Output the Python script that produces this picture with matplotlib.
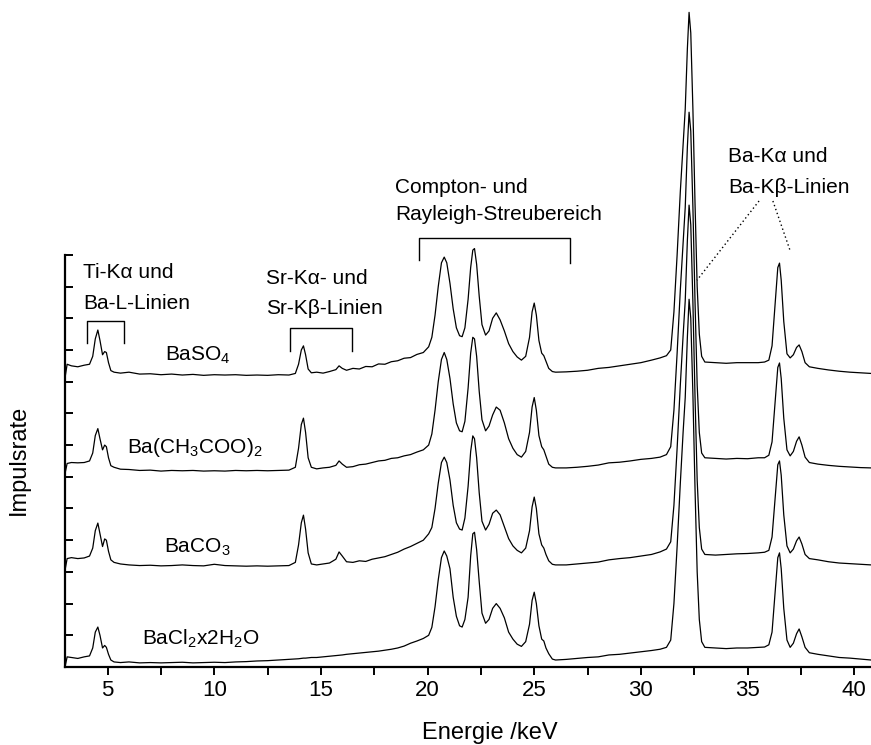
import matplotlib
matplotlib.use("Agg")
import matplotlib.pyplot as plt

plt.rcParams['font.family'] = ['Liberation Sans', 'DejaVu Sans']
plt.rcParams['mathtext.fontset'] = 'custom'
plt.rcParams['mathtext.rm'] = 'Liberation Sans'
plt.rcParams['mathtext.default'] = 'regular'

# Energie-Raster (keV)
energie = [
    3.0, 3.1, 3.3, 3.6, 3.9, 4.15, 4.3, 4.42, 4.54, 4.64,
    4.76, 4.86, 4.94, 5.04, 5.15, 5.3, 5.6, 6.0, 6.5, 7.0,
    7.5, 8.0, 8.5, 9.0, 9.5, 10.0, 10.5, 11.0, 11.5, 12.0,
    12.5, 13.0, 13.5, 13.8, 13.95, 14.08, 14.18, 14.28, 14.4, 14.55,
    14.8, 15.1, 15.4, 15.7, 15.85, 16.0, 16.2, 16.5, 16.8, 17.1,
    17.4, 17.7, 18.0, 18.3, 18.6, 18.9, 19.2, 19.5, 19.8, 20.05,
    20.2, 20.35, 20.5, 20.65, 20.78, 20.9, 21.05, 21.2, 21.35, 21.5,
    21.62, 21.75, 21.9, 22.02, 22.12, 22.2, 22.3, 22.42, 22.55, 22.72,
    22.88, 23.05, 23.22, 23.4, 23.6, 23.8, 24.0, 24.2, 24.4, 24.6,
    24.78, 24.9, 25.0, 25.1, 25.22, 25.35, 25.45, 25.55, 25.68, 25.85,
    26.0, 26.5, 27.0, 27.5, 28.0, 28.5, 29.0, 29.5, 30.0, 30.5,
    30.9, 31.2, 31.4, 31.55, 31.7, 31.85, 31.98, 32.08, 32.18, 32.26,
    32.34, 32.44, 32.54, 32.64, 32.74, 32.85, 33.0, 33.5, 34.0, 34.5,
    35.0, 35.5, 35.8, 36.0, 36.15, 36.3, 36.42, 36.5, 36.58, 36.7,
    36.85, 37.0, 37.15, 37.3, 37.42, 37.55, 37.7, 37.9, 38.3, 38.8,
    39.3, 39.8, 40.3, 40.8,
]

baso4 = [
    0.12, 0.55, 0.5, 0.47, 0.52, 0.55, 0.8, 1.35, 1.63, 1.3,
    0.85, 0.95, 0.92, 0.6, 0.35, 0.3, 0.27, 0.3, 0.24, 0.25,
    0.22, 0.24, 0.21, 0.23, 0.2, 0.22, 0.21, 0.22, 0.2, 0.21,
    0.2, 0.22, 0.21, 0.26, 0.55, 1.0, 1.13, 0.85, 0.4, 0.28,
    0.3, 0.27, 0.32, 0.38, 0.5, 0.42, 0.36, 0.42, 0.4, 0.48,
    0.47, 0.56, 0.55, 0.63, 0.66, 0.74, 0.76, 0.86, 0.92, 1.1,
    1.4, 2.1, 3.0, 3.75, 3.93, 3.75, 3.1, 2.3, 1.7, 1.45,
    1.42, 1.7, 2.6, 3.6, 4.15, 4.2, 3.7, 2.7, 1.8, 1.47,
    1.6, 2.0, 2.17, 1.95, 1.6, 1.2, 0.95, 0.78, 0.68, 0.8,
    1.4, 2.2, 2.48, 2.1, 1.3, 0.9, 0.82, 0.65, 0.42, 0.32,
    0.3, 0.31, 0.33, 0.36, 0.42, 0.45, 0.5, 0.55, 0.6, 0.68,
    0.75, 0.82, 1.0, 2.2, 4.0, 6.0, 7.5, 8.6, 10.5, 11.65,
    11.0, 8.6, 5.6, 3.0, 1.5, 0.8, 0.62, 0.6, 0.58, 0.6,
    0.6, 0.6, 0.62, 0.68, 1.13, 2.5, 3.6, 3.74, 3.2, 1.9,
    0.88, 0.75, 0.85, 1.08, 1.16, 0.95, 0.6, 0.47, 0.42, 0.37,
    0.33, 0.3, 0.28, 0.26,
]

ba_acetat = [
    0.1, 0.42, 0.45, 0.44, 0.45, 0.5, 0.75, 1.3, 1.52, 1.2,
    0.85, 1.0, 0.95, 0.6, 0.35, 0.3, 0.24, 0.23, 0.2, 0.21,
    0.18, 0.2, 0.19, 0.2, 0.18, 0.19, 0.18, 0.2, 0.19, 0.2,
    0.19, 0.2, 0.21, 0.3, 0.9, 1.65, 1.85, 1.4, 0.6, 0.3,
    0.25, 0.28, 0.3, 0.36, 0.5, 0.4, 0.3, 0.32, 0.38, 0.4,
    0.45, 0.5, 0.52, 0.58, 0.6, 0.66, 0.7, 0.78, 0.85, 1.0,
    1.35, 2.1, 3.0, 3.7, 3.92, 3.7, 3.1, 2.3, 1.7, 1.45,
    1.42, 1.75, 2.8, 3.9, 4.4, 4.35, 3.8, 2.7, 1.8, 1.45,
    1.6, 1.95, 2.2, 2.1, 1.7, 1.2, 0.9, 0.7, 0.62, 0.8,
    1.4, 2.2, 2.5, 2.1, 1.3, 0.95, 0.85, 0.65, 0.4, 0.3,
    0.28, 0.28, 0.3, 0.33, 0.37, 0.44, 0.46, 0.5, 0.55, 0.58,
    0.62, 0.7, 0.95, 2.1, 3.9, 5.9, 7.4, 8.5, 10.4, 11.5,
    10.9, 8.5, 5.5, 2.9, 1.4, 0.75, 0.6, 0.58, 0.56, 0.58,
    0.57, 0.6, 0.6, 0.68, 1.1, 2.4, 3.45, 3.59, 3.1, 1.85,
    0.85, 0.66, 0.8, 1.12, 1.26, 1.0, 0.62, 0.45, 0.4, 0.36,
    0.33, 0.31, 0.29, 0.28,
]

baco3 = [
    0.05, 0.42, 0.45, 0.42, 0.44, 0.5, 0.75, 1.3, 1.54, 1.2,
    0.8, 1.04, 1.0, 0.65, 0.38, 0.3, 0.25, 0.22, 0.2, 0.21,
    0.19, 0.2, 0.22, 0.2, 0.19, 0.24, 0.2, 0.19, 0.18, 0.19,
    0.18, 0.19, 0.2, 0.3, 0.85, 1.55, 1.79, 1.35, 0.6, 0.25,
    0.22, 0.25, 0.28, 0.4, 0.63, 0.5, 0.32, 0.3, 0.35, 0.33,
    0.4, 0.44, 0.48, 0.55, 0.62, 0.72, 0.8, 0.9, 1.0, 1.2,
    1.4, 2.0, 2.8, 3.45, 3.62, 3.45, 2.9, 2.1, 1.55, 1.35,
    1.32, 1.7, 2.7, 3.8, 4.29, 4.2, 3.6, 2.5, 1.6, 1.32,
    1.5, 1.85, 1.95, 1.8, 1.42, 1.05, 0.82, 0.68, 0.6, 0.75,
    1.3, 2.05, 2.36, 2.0, 1.2, 0.85, 0.75, 0.55, 0.35, 0.24,
    0.22, 0.22, 0.25, 0.28, 0.31, 0.38, 0.42, 0.45, 0.5, 0.55,
    0.63, 0.72, 0.95, 2.1, 3.9, 5.9, 7.45, 8.55, 10.45, 11.57,
    10.95, 8.5, 5.5, 2.9, 1.4, 0.72, 0.55, 0.53, 0.55, 0.57,
    0.58, 0.6, 0.62, 0.68, 1.1, 2.35, 3.38, 3.5, 3.05, 1.8,
    0.82, 0.6, 0.72, 0.98, 1.1, 0.88, 0.55, 0.42, 0.38, 0.32,
    0.28, 0.26, 0.24, 0.22,
]

bacl2 = [
    0.0, 0.32, 0.3, 0.27, 0.32, 0.35, 0.6, 1.1, 1.26, 1.0,
    0.6, 0.68, 0.62, 0.4, 0.22, 0.16, 0.14, 0.16, 0.13, 0.14,
    0.13, 0.14, 0.15, 0.13, 0.14, 0.15, 0.14, 0.16, 0.17, 0.19,
    0.2, 0.22, 0.24, 0.25, 0.26, 0.27, 0.28, 0.28, 0.29, 0.3,
    0.3, 0.32, 0.34, 0.36, 0.37, 0.38, 0.4, 0.42, 0.44, 0.46,
    0.48, 0.5, 0.53, 0.56, 0.6, 0.66, 0.75, 0.82, 0.9, 1.0,
    1.25, 1.9, 2.75, 3.45, 3.66, 3.5, 3.1, 2.2, 1.6, 1.3,
    1.26, 1.5, 2.2, 3.5, 4.2, 4.25, 3.7, 2.7, 1.7, 1.38,
    1.5, 1.85, 2.0, 1.85, 1.55, 1.1, 0.88, 0.72, 0.65, 0.8,
    1.35, 2.1, 2.36, 2.0, 1.3, 0.88, 0.82, 0.6, 0.42, 0.25,
    0.22, 0.24, 0.27, 0.3, 0.32, 0.38, 0.4, 0.44, 0.48, 0.52,
    0.56, 0.62, 0.85, 2.0, 3.8, 5.8, 7.4, 8.5, 10.4, 11.6,
    11.0, 8.6, 5.6, 3.0, 1.5, 0.8, 0.62, 0.6, 0.58, 0.6,
    0.6, 0.62, 0.63, 0.7, 1.1, 2.4, 3.45, 3.6, 3.1, 1.85,
    0.85, 0.62, 0.75, 1.05, 1.2, 0.95, 0.62, 0.45, 0.4, 0.35,
    0.3, 0.28, 0.25, 0.22,
]

spektren = [baso4, ba_acetat, baco3, bacl2]
versatz = [9, 6, 3, 0]
proben = ['BaSO$_4$', 'Ba(CH$_3$COO)$_2$', 'BaCO$_3$', 'BaCl$_2$x2H$_2$O']

fig = plt.figure(figsize=(8.71, 7.45), dpi=100)
ax = fig.add_axes([65 / 871, 78 / 745, 806 / 871, 667 / 745])

for werte, off in zip(spektren, versatz):
    ax.plot(energie, [w + off for w in werte], color='black', lw=0.9)

ax.set_xlim(3, 40.79)
ax.set_ylim(0, 21.04)

ax.spines['top'].set_visible(False)
ax.spines['right'].set_visible(False)
ax.spines['left'].set_bounds(0, 13)
ax.spines['left'].set_linewidth(1.6)
ax.spines['bottom'].set_linewidth(1.6)

ax.set_xticks(range(5, 41, 5))
ax.set_xticks([x + 2.5 for x in range(5, 40, 5)], minor=True)
ax.tick_params(axis='x', which='both', direction='out', length=6, width=1.4, labelsize=16)
ax.set_yticks(range(0, 14))
ax.set_yticklabels([])
ax.tick_params(axis='y', direction='in', length=6, width=1.4)

ax.set_xlabel('Energie /keV', fontsize=17)
ax.xaxis.set_label_coords((22.9 - 3) / 37.79, -0.082)
ax.set_ylabel('Impulsrate', fontsize=17)
ax.yaxis.set_label_coords(-0.043, 0.31)

# Probenbezeichnungen
ax.text(7.69, 9.84, proben[0], fontsize=15, va='center')
ax.text(5.91, 6.91, proben[1], fontsize=15, va='center')
ax.text(7.64, 3.79, proben[2], fontsize=15, va='center')
ax.text(6.61, 0.88, proben[3], fontsize=15, va='center')

# Beschriftung der Linien
ax.text(3.84, 12.43, 'Ti-K\u03b1 und', fontsize=15, va='center')
ax.text(3.84, 11.48, 'Ba-L-Linien', fontsize=15, va='center')
ax.plot([4.03, 4.03, 5.77, 5.77], [10.22, 10.91, 10.91, 10.22], color='black', lw=1)

ax.text(12.42, 12.27, 'Sr-K\u03b1- und', fontsize=15, va='center')
ax.text(12.42, 11.32, 'Sr-K\u03b2-Linien', fontsize=15, va='center')
ax.plot([13.55, 13.55, 16.45, 16.45], [9.97, 10.69, 10.69, 9.97], color='black', lw=1)

ax.text(18.47, 15.14, 'Compton- und', fontsize=15, va='center')
ax.text(18.47, 14.26, 'Rayleigh-Streubereich', fontsize=15, va='center')
ax.plot([19.6, 19.6, 26.7, 26.7], [12.84, 13.53, 13.53, 12.74], color='black', lw=1)

ax.text(34.08, 16.09, 'Ba-K\u03b1 und', fontsize=15, va='center')
ax.text(34.08, 15.11, 'Ba-K\u03b2-Linien', fontsize=15, va='center')
ax.plot([35.54, 32.63], [14.7, 12.2], ls=(0, (1, 2)), color='black', lw=1)
ax.plot([36.19, 36.99], [14.7, 13.15], ls=(0, (1, 2)), color='black', lw=1)

fig.savefig('out.png', dpi=100)
